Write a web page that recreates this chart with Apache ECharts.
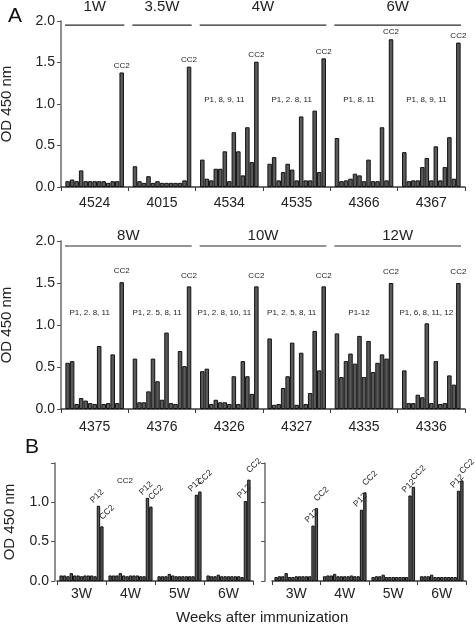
<!DOCTYPE html>
<html><head><meta charset="utf-8">
<script src="https://cdn.jsdelivr.net/npm/echarts@6/dist/echarts.min.js"></script>
<style>html,body{margin:0;padding:0;background:#fff}#c{width:475px;height:625px}</style>
</head><body><div id="c"></div>
<script>
// ---------- data ----------
const peptides = ['P1','P2','P3','P4','P5','P6','P7','P8','P9','P10','P11','P12','CC2'];
const miceTop = ['4524','4015','4534','4535','4366','4367'];
const miceBottom = ['4375','4376','4326','4327','4335','4336'];

const od4524 = [0.07,0.09,0.07,0.20,0.07,0.07,0.07,0.07,0.07,0.05,0.07,0.07,1.38];
const od4015 = [0.25,0.07,0.05,0.13,0.05,0.07,0.05,0.05,0.05,0.05,0.05,0.08,1.45];
const od4534 = [0.33,0.10,0.08,0.22,0.22,0.43,0.07,0.66,0.43,0.14,0.72,0.30,1.51];
const od4535 = [0.28,0.36,0.08,0.18,0.28,0.21,0.08,0.85,0.08,0.08,0.92,0.18,1.55];
const od4366 = [0.59,0.07,0.08,0.10,0.16,0.14,0.07,0.33,0.07,0.07,0.72,0.08,1.78];
const od4367 = [0.42,0.07,0.08,0.08,0.24,0.35,0.08,0.49,0.08,0.24,0.60,0.10,1.74];

const od4375 = [0.55,0.57,0.06,0.13,0.10,0.07,0.06,0.75,0.06,0.07,0.65,0.07,1.51];
const od4376 = [0.60,0.08,0.08,0.21,0.60,0.33,0.11,0.91,0.07,0.06,0.69,0.51,1.46];
const od4326 = [0.45,0.48,0.06,0.11,0.08,0.08,0.06,0.39,0.06,0.57,0.39,0.18,1.46];
const od4327 = [0.84,0.05,0.06,0.25,0.39,0.79,0.05,0.67,0.06,0.19,0.93,0.46,1.46];
const od4335 = [0.90,0.38,0.57,0.66,0.54,0.87,0.38,0.81,0.44,0.55,0.65,0.60,1.50];
const od4336 = [0.46,0.07,0.07,0.17,0.14,1.02,0.07,0.57,0.06,0.07,0.40,0.29,1.50];

const weeksTop = ['1W','3.5W','4W','6W'];
const weeksTopSpan = [[0,0],[1,1],[2,3],[4,5]];
const weeksBottom = ['8W','10W','12W'];
const weeksBottomSpan = [[0,1],[2,3],[4,5]];
const positiveTop = ['','','P1, 8, 9, 11','P1, 2. 8, 11','P1, 8, 11','P1, 8, 9, 11'];
const positiveBottom = ['P1, 2. 8, 11','P1, 2. 5, 8, 11','P1, 2. 8, 10, 11','P1, 2. 5, 8, 11','P1-12','P1, 6, 8, 11, 12'];

const weeksB = ['3W','4W','5W','6W'];
const odB1_3W = [0.07,0.07,0.06,0.10,0.07,0.07,0.06,0.07,0.07,0.07,0.06,0.95,0.69];
const odB1_4W = [0.07,0.07,0.07,0.10,0.07,0.06,0.07,0.07,0.07,0.06,0.06,1.05,0.94];
const odB1_5W = [0.06,0.06,0.06,0.09,0.07,0.06,0.06,0.06,0.06,0.06,0.06,1.09,1.13];
const odB1_6W = [0.07,0.06,0.06,0.08,0.06,0.06,0.06,0.06,0.06,0.06,0.05,1.01,1.28];
const odB2_3W = [0.05,0.06,0.06,0.10,0.05,0.05,0.06,0.06,0.06,0.06,0.06,0.70,0.92];
const odB2_4W = [0.06,0.07,0.07,0.09,0.06,0.06,0.06,0.06,0.07,0.06,0.06,0.90,1.12];
const odB2_5W = [0.05,0.06,0.06,0.08,0.05,0.05,0.05,0.05,0.05,0.05,0.05,1.08,1.19];
const odB2_6W = [0.06,0.06,0.06,0.08,0.05,0.05,0.05,0.05,0.05,0.05,0.05,1.14,1.27];

// ---------- chart ----------
const FONT = 'Liberation Sans, Arial, sans-serif';
const BAR_FILL = '#595959', BAR_EDGE = '#121212';

const groupsA1 = [od4524, od4015, od4534, od4535, od4366, od4367];
const groupsA2 = [od4375, od4376, od4326, od4327, od4335, od4336];
const groupsB1 = [odB1_3W, odB1_4W, odB1_5W, odB1_6W];
const groupsB2 = [odB2_3W, odB2_4W, odB2_5W, odB2_6W];

function barSeries(axisIdx, groups, catGap, labelFn) {
  return peptides.map((p, k) => {
    const s = {
      type: 'bar', name: p, xAxisIndex: axisIdx, yAxisIndex: axisIdx,
      data: groups.map(g => g[k]),
      barGap: '0%', barCategoryGap: catGap,
      itemStyle: { color: BAR_FILL, borderColor: BAR_EDGE, borderWidth: 1 },
      silent: true
    };
    const lab = labelFn ? labelFn(k) : null;
    if (lab) s.label = lab;
    return s;
  });
}

function ccLabelA(distance) {
  return k => k === 12 ? { show: true, position: 'top', formatter: 'CC2', fontSize: 8,
    fontFamily: FONT, color: '#222', distance: distance } : null;
}
function rotLabelB(k) {
  if (k === 11) return { show: true, position: 'top', formatter: 'P12', rotate: 45, fontSize: 8.5,
    fontFamily: FONT, color: '#222', align: 'center', verticalAlign: 'middle', distance: 11, offset: [-2, 0] };
  if (k === 12) return { show: true, position: 'top', formatter: 'CC2', rotate: 45, fontSize: 8.5,
    fontFamily: FONT, color: '#222', align: 'center', verticalAlign: 'middle', distance: 9, offset: [7, 0] };
  return null;
}

function bracketSeries(axisIdx, labels, spans, lineVal, textOff) {
  return {
    type: 'custom', xAxisIndex: axisIdx, yAxisIndex: axisIdx, silent: true, z: 5, clip: false,
    encode: { x: [0, 1], y: 2 },
    data: spans.map(s => [s[0], s[1], 0]),
    renderItem: (params, api) => {
      const a = api.coord([api.value(0), lineVal]);
      const b = api.coord([api.value(1), lineVal]);
      const bw = api.size([1, 0])[0];
      const x1 = a[0] - bw / 2 + 4, x2 = b[0] + bw / 2 - 4, y = a[1];
      return { type: 'group', children: [
        { type: 'line', shape: { x1: x1, y1: y, x2: x2, y2: y }, style: { stroke: '#2a2a2a', lineWidth: 1.1 } },
        { type: 'text', style: { text: labels[params.dataIndex], x: (x1 + x2) / 2, y: y - textOff,
          align: 'center', verticalAlign: 'middle', font: '15px ' + FONT, fill: '#222' } }
      ]};
    }
  };
}

function posSeries(axisIdx, texts, val) {
  return {
    type: 'custom', xAxisIndex: axisIdx, yAxisIndex: axisIdx, silent: true, z: 5, clip: false,
    encode: { x: 0, y: 1 },
    data: texts.map((t, i) => [i, 0]),
    renderItem: (params, api) => {
      const c = api.coord([api.value(0), val]);
      return { type: 'text', style: { text: texts[params.dataIndex], x: c[0] - 5, y: c[1],
        align: 'center', verticalAlign: 'middle', font: '8px ' + FONT, fill: '#222' } };
    }
  };
}

const grids = [
  { left: 61, top: 21, width: 404, height: 166, outerBoundsMode: 'none', containLabel: false },
  { left: 61, top: 241, width: 404, height: 168, outerBoundsMode: 'none', containLabel: false },
  { left: 57, top: 463, width: 196, height: 118, outerBoundsMode: 'none', containLabel: false },
  { left: 272, top: 463, width: 194, height: 118, outerBoundsMode: 'none', containLabel: false }
];

function xAx(gi, data, margin) {
  return {
    type: 'category', gridIndex: gi, data: data,
    axisLine: { lineStyle: { color: '#3a3a3a', width: 1.5 } },
    axisTick: { show: true, length: 4, lineStyle: { color: '#3a3a3a' } },
    axisLabel: { fontSize: 14, color: '#222', fontFamily: FONT, margin: margin }
  };
}
function yAx(gi, max, opts) {
  return Object.assign({
    type: 'value', gridIndex: gi, min: 0, max: max, interval: 0.5,
    axisLine: { show: true, lineStyle: { color: '#6a6a6a', width: 1.5 } },
    axisTick: { show: true, length: 4, lineStyle: { color: '#555' } },
    splitLine: { show: false },
    axisLabel: { fontSize: 14, color: '#222', fontFamily: FONT, margin: 6, padding: [0, 0, 8, 0],
      formatter: v => v.toFixed(1) },
    name: 'OD 450 nm', nameLocation: 'middle', nameRotate: 90, nameGap: 47,
    nameTextStyle: { fontSize: 15, color: '#222', fontFamily: FONT }
  }, opts || {});
}

const option = {
  animation: false,
  backgroundColor: '#fff',
  grid: grids,
  xAxis: [
    xAx(0, miceTop, 9),
    xAx(1, miceBottom, 11),
    xAx(2, weeksB, 6),
    xAx(3, weeksB, 6)
  ],
  yAxis: [
    yAx(0, 2),
    yAx(1, 2),
    yAx(2, 1.49, { offset: 2, nameGap: 38,
      axisLabel: { fontSize: 14, color: '#222', fontFamily: FONT, margin: 6,
        formatter: v => v > 1.01 ? '' : v.toFixed(1) } }),
    yAx(3, 1.49, { offset: 7, name: '', axisLabel: { show: false } })
  ],
  series: [].concat(
    barSeries(0, groupsA1, '13%', ccLabelA(3)),
    barSeries(1, groupsA2, '13%', ccLabelA(7)),
    barSeries(2, groupsB1, '10%', rotLabelB),
    barSeries(3, groupsB2, '10%', rotLabelB),
    [
      bracketSeries(0, weeksTop, weeksTopSpan, 1.95, 18),
      bracketSeries(1, weeksBottom, weeksBottomSpan, 1.94, 10),
      posSeries(0, positiveTop, 1.05),
      posSeries(1, positiveBottom, 1.15)
    ]
  ),
  graphic: [
    { type: 'text', left: 8, top: 6, style: { text: 'A', font: '21px ' + FONT, fill: '#111' } },
    { type: 'text', left: 25, top: 437, style: { text: 'B', font: '21px ' + FONT, fill: '#111' } },
    { type: 'text', left: 117, top: 477, style: { text: 'CC2', font: '8px ' + FONT, fill: '#222' } },
    { type: 'text', left: 176, top: 610, style: { text: 'Weeks after immunization', font: '15px ' + FONT, fill: '#222' } }
  ]
};

const chart = echarts.init(document.getElementById('c'), null, { renderer: 'canvas' });
chart.setOption(option);
</script>
</body></html>
